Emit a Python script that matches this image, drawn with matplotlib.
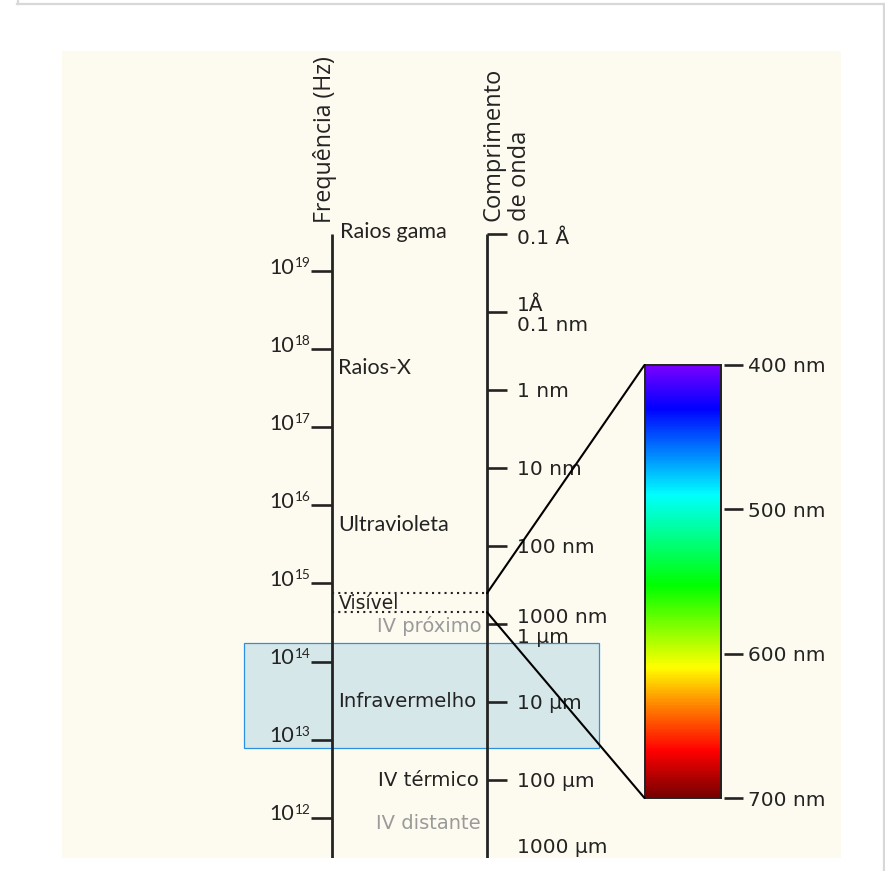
import numpy as np
import matplotlib
matplotlib.use("Agg")
import matplotlib.pyplot as plt
from matplotlib.colors import LinearSegmentedColormap
from matplotlib.patches import Rectangle, ConnectionPatch
from matplotlib.lines import Line2D
from matplotlib.transforms import offset_copy

C = 2.998e8  # m/s

# escala de frequencia (expoentes de 10, em Hz)
freq_exps = [19, 18, 17, 16, 15, 14, 13, 12]
# escala de comprimento de onda (m) e rotulos
wl_m = [1e-11, 1e-10, 1e-9, 1e-8, 1e-7, 1e-6, 1e-5, 1e-4, 1e-3]
wl_labels = ["0.1 Å", "1Å\n0.1 nm", "1 nm", "10 nm", "100 nm",
             "1000 nm\n1 µm", "10 µm", "100 µm", "1000 µm"]
# faixa visivel (nm) e escala do espectro
vis_nm = [400, 700]
spec_ticks = [400, 500, 600, 700]
spec_nm = [400, 430, 490, 553, 610, 635, 668, 700]
spec_col = ["#7a00ff", "#0000ff", "#00ffff", "#00ff00", "#ffff00",
            "#ff8c00", "#ff0000", "#780000"]
# faixa destacada (log10 f)
box_logf = [12.89, 14.233]

# ---- layout (pixels) ----
W, H = 885, 871
L, R, T, B = 62.3, 840.7, 51.5, 857.7
DEC, Y14 = 78.1, 661.5
X_F, X_W = 332, 487
DARK = "#232323"
GRAY = "#9a9a9a"
CREAM = "#fdfbef"


def lf(ypix):
    return 14 + (Y14 - ypix) / DEC


lato = ["Lato", "DejaVu Sans"]
dejavu = ["DejaVu Sans"]
# nomes das regioes: texto, x, linha de base, alinhamento, fonte, tamanho, cor
regions = [("Raios gama", 340.5, 238, "left", lato, 15.5, DARK),
           ("Raios-X", 338.5, 374, "left", lato, 15.5, DARK),
           ("Ultravioleta", 338.5, 530.5, "left", lato, 15.5, DARK),
           ("Visível", 338.5, 609.3, "left", dejavu, 13.5, DARK),
           ("Infravermelho", 338.5, 706.5, "left", dejavu, 14.2, DARK),
           ("IV próximo", 481.5, 632, "right", dejavu, 14, GRAY),
           ("IV térmico", 478.5, 786, "right", dejavu, 14.2, DARK),
           ("IV distante", 480.5, 829.3, "right", dejavu, 14, GRAY)]

fig = plt.figure(figsize=(W / 100, H / 100), dpi=100)
fig.patch.set_facecolor("white")
ax = fig.add_axes([L / W, (H - B) / H, (R - L) / W, (B - T) / H])
ax.set_xlim(L, R)
ax.set_ylim(lf(B), lf(T))
ax.set_facecolor(CREAM)
for s in ax.spines.values():
    s.set_visible(False)
ax.set_xticks([])
ax.set_yticks([])

# borda cinza da pagina
for xs, ys in [([17.8, 17.8], [0, 4]), ([17, 885], [4, 4]), ([884, 884], [4, 871])]:
    fig.add_artist(Line2D(np.array(xs) / W, 1 - np.array(ys) / H,
                          transform=fig.transFigure, color="#d8d8d8", lw=1.6))

wl_logf = np.log10(C / np.array(wl_m))
top = wl_logf[0]
vis_logf = np.log10(C / (np.array(vis_nm) * 1e-9))

# caixa destacada
ax.add_patch(Rectangle((244.5, box_logf[0]), 355, box_logf[1] - box_logf[0],
                       facecolor="#d6e7ea", edgecolor="#2a90df", lw=0.9, zorder=1))

# eixos
ax.vlines([X_F, X_W], lf(B) - 0.05, top, color=DARK, lw=2.0, zorder=3)
ax.hlines(freq_exps, 311, X_F, color=DARK, lw=1.9, zorder=3)
ax.hlines(wl_logf, X_W, 507, color=DARK, lw=1.9, zorder=3)
ax.hlines(vis_logf, X_F, X_W, color=DARK, lw=1.5, linestyles=(0, (1, 2)), zorder=3)

# rotulos de frequencia
for e in freq_exps:
    ax.text(294.5, e, "10", ha="right", va="baseline", fontsize=15.5, family=lato,
            color=DARK, transform=offset_copy(ax.transData, fig=fig, y=-2.5, units="dots"))
    ax.text(294.8, e, str(e), ha="left", va="baseline", fontsize=9.8, family=lato,
            color=DARK, transform=offset_copy(ax.transData, fig=fig, y=4, units="dots"))

# rotulos de comprimento de onda
for y, lab in zip(wl_logf, wl_labels):
    parts = lab.split("\n")
    offs = [-7] if len(parts) == 1 else [1, -19]
    if lab == "1000 µm":
        offs = [5.5]
    if lab == "0.1 Å":
        offs = [-10]
    for p, o in zip(parts, offs):
        ax.text(517, y, p, ha="left", va="baseline", fontsize=14.5, color=DARK,
                transform=offset_copy(ax.transData, fig=fig, y=o, units="dots"),
                clip_on=True, zorder=4)

# nomes das regioes
for name, x, yp, ha, fam, fs, col in regions:
    ax.text(x, lf(yp), name, ha=ha, va="baseline", fontsize=fs, family=fam,
            color=col, zorder=4)

# titulos dos eixos
ax.text(325, lf(223), "Frequência (Hz)", rotation=90, ha="center", va="bottom",
        fontsize=16.7, family=["Open Sans", "DejaVu Sans"], color=DARK)
ax.text(507, lf(221), "Comprimento\nde onda", rotation=90, ha="center", va="bottom",
        multialignment="left", linespacing=1.12, fontsize=17,
        family=["Open Sans", "DejaVu Sans"], color=DARK)

# espectro visivel
cax = fig.add_axes([644.5 / W, (H - 798) / H, 76 / W, (798 - 365) / H])
pos = (np.array(spec_nm) - spec_nm[0]) / (spec_nm[-1] - spec_nm[0])
cmap = LinearSegmentedColormap.from_list("vis", list(zip(pos, spec_col)))
grad = np.linspace(spec_nm[0], spec_nm[-1], 400).reshape(-1, 1)
cax.imshow(grad, cmap=cmap, aspect="auto", extent=(0, 1, 700, 400),
           vmin=spec_nm[0], vmax=spec_nm[-1])
cax.set_xlim(0, 1)
cax.set_ylim(700, 400)
cax.set_xticks([])
cax.set_yticks([])
for s in cax.spines.values():
    s.set_color(DARK)
    s.set_linewidth(1.4)
yt = cax.get_yaxis_transform()
cax.hlines(spec_ticks, 1.05, 1.30, transform=yt, color=DARK, lw=1.9, clip_on=False)
for v in spec_ticks:
    cax.text(1.36, v, f"{v} nm", ha="left", va="baseline", fontsize=14.5, color=DARK,
             transform=offset_copy(yt, fig=fig, y=-7.5, units="dots"))

for yv, nm in zip(vis_logf, vis_nm):
    con = ConnectionPatch(xyA=(X_W, yv), coordsA=ax.transData, xyB=(0, nm),
                          coordsB=cax.transData, color="black", lw=1.5, zorder=5)
    fig.add_artist(con)

fig.savefig("out.png", dpi=100)
